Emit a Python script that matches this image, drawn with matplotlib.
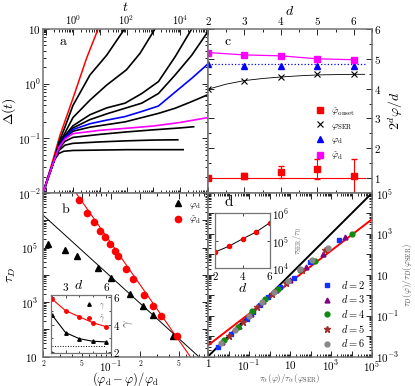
import numpy as np
import matplotlib
matplotlib.use('Agg')
import matplotlib.pyplot as plt
from matplotlib.ticker import FixedLocator, FixedFormatter, NullFormatter, LogLocator, MultipleLocator

plt.rcParams['mathtext.fontset'] = 'cm'
plt.rcParams['font.family'] = 'serif'
plt.rcParams['font.serif'] = ['cmr10', 'DejaVu Serif']
plt.rcParams['axes.formatter.use_mathtext'] = True
plt.rcParams['axes.unicode_minus'] = False

# ---------------- panel a : MSD curves ----------------
t_red = [0.076, 0.15, 0.33, 1.0, 3.2, 8.8]
D_red = [0.01, 0.03, 0.115, 0.54, 2.9, 10.2]

t_c2 = [0.076, 0.13, 0.2, 0.3, 0.5, 1, 4.3, 18, 90]
D_c2 = [0.01, 0.022, 0.04, 0.085, 0.16, 0.4, 1.44, 3.3, 10.5]
t_c3 = [0.076, 0.13, 0.2, 0.3, 0.5, 1, 4.3, 18, 100, 320, 1150]
D_c3 = [0.01, 0.022, 0.04, 0.078, 0.125, 0.24, 0.5, 0.94, 1.8, 3.6, 10]
t_c4 = [0.076, 0.13, 0.2, 0.3, 0.5, 1, 4.3, 18, 88, 370, 1550, 6500, 2.7e4]
D_c4 = [0.01, 0.022, 0.04, 0.075, 0.112, 0.17, 0.27, 0.36, 0.44, 0.66, 1.09, 3.1, 10]
t_c5 = [0.076, 0.13, 0.2, 0.3, 0.5, 1, 4.3, 18, 88, 370, 1550, 6500, 2.7e4, 1.1e5]
D_c5 = [0.01, 0.022, 0.04, 0.073, 0.108, 0.155, 0.22, 0.28, 0.355, 0.44, 0.66, 1.44, 3.3, 9]
t_blue = [0.076, 0.13, 0.2, 0.3, 0.5, 1, 4.3, 18, 88, 370, 1550, 6500, 2.7e4, 1.1e5]
D_blue = [0.01, 0.022, 0.04, 0.071, 0.104, 0.145, 0.185, 0.215, 0.25, 0.31, 0.39, 0.7, 1.25, 2.3]
t_c7 = [0.076, 0.13, 0.2, 0.3, 0.5, 1, 4.3, 18, 88, 1550, 6500, 2.7e4, 1.1e5]
D_c7 = [0.01, 0.022, 0.04, 0.07, 0.1, 0.135, 0.16, 0.178, 0.2, 0.286, 0.355, 0.47, 0.63]
t_mag = [0.076, 0.13, 0.2, 0.3, 0.5, 1, 10, 100, 1000, 1e4, 1.1e5]
D_mag = [0.01, 0.022, 0.04, 0.068, 0.097, 0.122, 0.14, 0.153, 0.168, 0.195, 0.24]
t_c9 = [0.076, 0.13, 0.2, 0.3, 0.5, 1, 10, 100, 1000, 1e4, 3.2e4]
D_c9 = [0.01, 0.022, 0.04, 0.065, 0.088, 0.104, 0.118, 0.131, 0.143, 0.155, 0.163]
t_c10 = [0.076, 0.13, 0.2, 0.3, 0.5, 1, 10, 100, 1000, 8200]
D_c10 = [0.01, 0.022, 0.04, 0.06, 0.075, 0.081, 0.086, 0.09, 0.093, 0.094]
t_c11 = [0.076, 0.13, 0.2, 0.3, 0.45, 1, 10, 100, 1000, 1.3e4]
D_c11 = [0.01, 0.022, 0.04, 0.053, 0.058, 0.06, 0.061, 0.062, 0.062, 0.062]

# ---------------- panel b : tau_D ----------------
xb_tri = [0.0223, 0.0337, 0.0452, 0.0733, 0.1005, 0.158, 0.213, 0.270, 0.435]
tau_tri = [1.4e5, 7.9e4, 4.9e4, 1.7e4, 7.6e3, 1.9e3, 6.9e2, 3.2e2, 56]
xb_circ = [0.047, 0.0573, 0.0671, 0.0774, 0.0871, 0.0982, 0.1105, 0.1195, 0.1435,
           0.1705, 0.2213, 0.274, 0.327, 0.478]
tau_circ = [5.5e6, 1.8e6, 8.8e5, 4.0e5, 2.45e5, 1.3e5, 7.5e4, 4.8e4, 1.6e4,
            7.2e3, 1.86e3, 6.9e2, 2.95e2, 55]
fit_tri_x = [0.02, 0.8]
fit_tri_y = [1.55e6, 10]
fit_circ_x = [0.0438, 0.655]
fit_circ_y = [1e7, 10]

# inset of b : exponents
dims = [2, 3, 4, 5, 6]
gamma = [4.7, 3.41, 2.97, 2.78, 2.73]
gamma_hat = [5.86, 5.01, 4.57, 4.13, 3.84]
gamma_ref = 2.4

# ---------------- panel c : densities ----------------
phi_hat_d = [5.21, 5.13, 5.10, 5.00, 4.97]
phi_d = [4.83, 4.76, 4.76, 4.77, 4.77]
phi_d_line = 4.82
phi_ser = [4.00, 4.27, 4.39, 4.48, 4.48]
ser_fit_d = [2, 2.5, 3, 3.5, 4, 4.5, 5, 5.5, 6, 6.3]
ser_fit = [3.98, 4.15, 4.27, 4.34, 4.39, 4.43, 4.46, 4.47, 4.48, 4.48]
phi_onset = [1.0, 1.07, 1.2, 1.3, 1.07]
phi_onset_err = [0.0, 0.1, 0.2, 0.33, 0.56]

# ---------------- panel d : scaling ----------------
x_d2 = [3.2e-3, 1.4e-2, 7.9e-2, 0.16, 0.35, 0.87, 3.2, 16, 95, 2.5e3]
y_d2 = [3.0e-3, 1.26e-2, 7.2e-2, 0.155, 0.32, 0.85, 2.5, 7.1, 40, 480]
x_d3 = [5e-3, 3.2e-2, 0.126, 0.5, 2.0, 10, 63, 400, 5e3]
y_d3 = [5e-3, 3.2e-2, 0.126, 0.5, 1.8, 5.6, 25, 107, 690]
x_d4 = [6.3e-3, 2.8e-2, 0.14, 0.63, 2.5, 32, 160, 1e4]
y_d4 = [6.3e-3, 2.8e-2, 0.16, 0.63, 2.0, 16.6, 47, 955]
x_d5 = [1e-2, 5e-2, 0.25, 1.26, 6.3, 40, 500]
y_d5 = [1e-2, 5e-2, 0.25, 1.12, 4.0, 17.8, 158]
x_d6 = [4.5e-3, 2e-2, 0.1, 0.45, 1.6, 7.9, 32, 112, 710]
y_d6 = [4.5e-3, 2e-2, 0.1, 0.45, 1.4, 5, 20, 50, 214]
diag_x = [1e-3, 1e5]
diag_y = [1e-3, 1e5]
red_fit_x = [1e-3, 1e5]
red_fit_y = [3.5e-3, 5.2e3]
tau_ser_ratio = [3.9e4, 6.3e4, 1.17e5, 2.1e5, 4.6e5]

GREY = '0.45'


def log_labels(exps, shown, one_as='10'):
    labs = []
    for e in exps:
        if e not in shown:
            labs.append('')
        elif e == 1:
            labs.append(r'$10$')
        elif e == 0:
            labs.append(r'$' + one_as + '$')
        else:
            labs.append(r'$10^{%d}$' % e)
    return labs


def set_log_ticks(axis, exps, shown, one_as='10^{0}'):
    axis.set_major_locator(FixedLocator([10.0 ** e for e in exps]))
    axis.set_major_formatter(FixedFormatter(log_labels(exps, shown, one_as)))
    axis.set_minor_locator(LogLocator(base=10, subs=np.arange(2, 10), numticks=30))
    axis.set_minor_formatter(NullFormatter())


fig = plt.figure(figsize=(4.15, 3.86), dpi=100)
W, H = 415.0, 386.0
ax_a = fig.add_axes([43 / W, 1 - 193 / H, 165 / W, 164 / H])
ax_c = fig.add_axes([208 / W, 1 - 193 / H, 164 / W, 164 / H])
ax_b = fig.add_axes([43 / W, 1 - 356.5 / H, 165 / W, 163.5 / H])
ax_d = fig.add_axes([208 / W, 1 - 356.5 / H, 164 / W, 163.5 / H])

for ax in (ax_a, ax_b, ax_c, ax_d):
    for s in ax.spines.values():
        s.set_color(GREY)
        s.set_linewidth(1.1)
    ax.tick_params(which='both', direction='in', top=True, bottom=True,
                   left=True, right=True, labelsize=8, width=0.6)
    ax.tick_params(which='major', length=4)
    ax.tick_params(which='minor', length=2)

# ---- a ----
ax_a.set_xscale('log')
ax_a.set_yscale('log')
ax_a.plot(t_red, D_red, color='red', lw=1.1)
for tt, DD in [(t_c2, D_c2), (t_c3, D_c3), (t_c4, D_c4), (t_c5, D_c5), (t_c7, D_c7),
               (t_c9, D_c9), (t_c10, D_c10), (t_c11, D_c11)]:
    ax_a.plot(tt, DD, color='black', lw=1.2)
ax_a.plot(t_blue, D_blue, color='blue', lw=1.2)
ax_a.plot(t_mag, D_mag, color='magenta', lw=1.2)
ax_a.set_xlim(0.076, 1.1e5)
ax_a.set_ylim(1e-2, 1e1)
set_log_ticks(ax_a.xaxis, range(-1, 6), [0, 2, 4])
set_log_ticks(ax_a.yaxis, range(-2, 2), [-2, -1, 0, 1])
ax_a.tick_params(labeltop=True, labelbottom=False, pad=1.5)
ax_a.tick_params(axis='x', labelsize=7.5)
ax_a.xaxis.set_label_position('top')
ax_a.set_xlabel(r'$t$', fontsize=10, labelpad=1.5)
ax_a.set_ylabel(r'$\Delta(t)$', fontsize=10, labelpad=0)
ax_a.text(0.1, 0.9, 'a', transform=ax_a.transAxes, fontsize=10)

# ---- c ----
eb = ax_c.errorbar(dims, phi_onset, yerr=phi_onset_err, fmt='s', color='red', ms=4,
                   capsize=2, elinewidth=0.8)
ax_c.plot([2, 6.3], [1.0, 1.0], color='red', lw=0.8)
ax_c.plot(ser_fit_d, ser_fit, color='black', lw=0.6)
h_ser, = ax_c.plot(dims, phi_ser, 'x', color='black', ms=5, mew=0.8)
ax_c.plot([2, 6.3], [phi_d_line, phi_d_line], ':', color='blue', lw=0.9)
h_d, = ax_c.plot(dims, phi_d, '^', color='blue', ms=4)
h_hd, = ax_c.plot(dims, phi_hat_d, '-s', color='magenta', ms=4, lw=0.9)
h_on, = ax_c.plot([], [], 's', color='red', ms=4)
h_hd_leg, = ax_c.plot([], [], 's', color='magenta', ms=4)
ax_c.set_xlim(2, 6.5)
ax_c.set_ylim(0.5, 6)
ax_c.xaxis.set_major_locator(MultipleLocator(1))
ax_c.xaxis.set_minor_locator(MultipleLocator(0.5))
ax_c.yaxis.set_major_locator(MultipleLocator(1))
ax_c.yaxis.set_minor_locator(MultipleLocator(0.5))
ax_c.tick_params(labeltop=True, labelbottom=False, labelleft=False, labelright=True, pad=1.5)
ax_c.xaxis.set_label_position('top')
ax_c.yaxis.set_label_position('right')
ax_c.set_xlabel(r'$d$', fontsize=10, labelpad=0)
ax_c.set_ylabel(r'$2^d\varphi/d$', fontsize=10, labelpad=4)
ax_c.text(0.1, 0.9, 'c', transform=ax_c.transAxes, fontsize=10)
ax_c.legend([h_on, h_ser, h_d, h_hd_leg],
            [r'$\hat{\varphi}_{\rm onset}$', r'$\varphi_{\rm SER}$',
             r'$\varphi_{\rm d}$', r'$\hat{\varphi}_{\rm d}$'],
            loc='upper left', bbox_to_anchor=(0.63, 0.56), frameon=False,
            fontsize=7, handlelength=1.0, handletextpad=0.6, labelspacing=0.35,
            borderaxespad=0, numpoints=1)

# ---- b ----
ax_b.set_xscale('log')
ax_b.set_yscale('log')
ax_b.plot(fit_tri_x, fit_tri_y, color='black', lw=0.7)
ax_b.plot(fit_circ_x, fit_circ_y, color='red', lw=0.8)
ax_b.plot(xb_tri, tau_tri, '^', color='black', ms=4.5, label=r'$\varphi_{\rm d}$')
ax_b.plot(xb_circ, tau_circ, 'o', color='red', ms=4.5, label=r'$\hat{\varphi}_{\rm d}$')
ax_b.set_xlim(0.02, 1)
ax_b.set_ylim(10, 1e7)
set_log_ticks(ax_b.yaxis, range(1, 8), [1, 3, 5])
ax_b.xaxis.set_major_locator(FixedLocator([0.02, 0.05, 0.1, 0.2, 0.5, 1.0]))
ax_b.xaxis.set_major_formatter(FixedFormatter(['2', '5', r'$10^{-1}$', '2', '5', '1']))
ax_b.xaxis.set_minor_locator(LogLocator(base=10, subs=np.arange(2, 10), numticks=30))
ax_b.xaxis.set_minor_formatter(NullFormatter())
ax_b.tick_params(axis='x', pad=2)
for lab in ax_b.get_xticklabels():
    if lab.get_text() in ('2', '5'):
        lab.set_fontsize(5.5)
ax_b.set_xlabel(r'$(\varphi_{\rm d}-\varphi)/\varphi_{\rm d}$', fontsize=9, labelpad=-3)
ax_b.set_ylabel(r'$\tau_D$', fontsize=10, labelpad=2)
ax_b.text(0.11, 0.88, 'b', transform=ax_b.transAxes, fontsize=10)
ax_b.legend(loc='upper right', frameon=False, fontsize=7, handlelength=1.0,
            handletextpad=0.6, labelspacing=0.3, borderaxespad=0.3, numpoints=1)

ax_bi = fig.add_axes([51 / W, 1 - 352.5 / H, 59.5 / W, 57.5 / H])
for s in ax_bi.spines.values():
    s.set_color(GREY)
    s.set_linewidth(0.9)
ax_bi.plot(dims, gamma, '-^', color='black', ms=2.5, lw=0.8)
ax_bi.plot(dims, gamma_hat, '-o', color='red', ms=2.5, lw=0.8)
g_h, = ax_bi.plot([], [], '^', color='black', ms=2.5)
gh_h, = ax_bi.plot([], [], 'o', color='red', ms=2.5)
ax_bi.plot([2, 6], [gamma_ref, gamma_ref], ':', color='black', lw=0.7)
ax_bi.set_xlim(1.93, 6.3)
ax_bi.set_ylim(1.96, 6.15)
ax_bi.xaxis.set_major_locator(FixedLocator([3, 6]))
ax_bi.xaxis.set_minor_locator(FixedLocator([2, 4, 5]))
ax_bi.yaxis.set_major_locator(FixedLocator([2, 4, 6]))
ax_bi.yaxis.set_minor_locator(MultipleLocator(1))
ax_bi.tick_params(which='both', direction='in', top=True, bottom=True, left=True, right=True,
                  labeltop=True, labelbottom=False, labelleft=False, labelright=True,
                  labelsize=8, pad=1.5, width=0.5)
ax_bi.tick_params(which='major', length=2.5)
ax_bi.tick_params(which='minor', length=1.5)
ax_bi.text(0.38, 1.05, r'$d$', transform=ax_bi.transAxes, fontsize=10, va='bottom')
ax_bi.text(1.2, 0.5, r'$\gamma$', transform=ax_bi.transAxes, fontsize=9, va='center',
           rotation=90, color='0.4')
ax_bi.legend([g_h, gh_h], [r'$\gamma$', r'$\hat{\gamma}$'], loc='upper right',
             frameon=False, fontsize=5.5, handlelength=0.6, handletextpad=1.0,
             labelspacing=0.2, borderaxespad=0.3, numpoints=1, labelcolor='0.4')

# ---- d ----
ax_d.set_xscale('log')
ax_d.set_yscale('log')
ax_d.plot(diag_x, diag_y, color='black', lw=1.4)
ax_d.plot(red_fit_x, red_fit_y, color='red', lw=1.4)
ax_d.plot(x_d2, y_d2, 's', color='#1030ff', ms=3.5, label=r'$d=2$')
ax_d.plot(x_d3, y_d3, '^', color='#800080', ms=3.5, label=r'$d=3$')
ax_d.plot(x_d4, y_d4, 'o', color='#108a10', ms=3.5, label=r'$d=4$')
ax_d.plot(x_d5, y_d5, '*', color='#a03030', ms=4.5, label=r'$d=5$')
ax_d.plot(x_d6, y_d6, 'o', color='#888888', ms=3.5, label=r'$d=6$')
ax_d.set_xlim(1e-3, 1e5)
ax_d.set_ylim(1e-3, 1e5)
set_log_ticks(ax_d.xaxis, range(-3, 6), [-1, 1, 3, 5])
set_log_ticks(ax_d.yaxis, range(-3, 6), [-3, -1, 1, 3, 5])
ax_d.tick_params(labelleft=False, labelright=True, pad=1.5)
ax_d.tick_params(axis='y', pad=3)
ax_d.yaxis.set_label_position('right')
ax_d.set_xlabel(r'$\tau_\alpha(\varphi)/\tau_\alpha(\varphi_{\rm SER})$', fontsize=6.5,
                labelpad=-1, color='0.3')
ax_d.set_ylabel(r'$\tau_D(\varphi)/\tau_D(\varphi_{\rm SER})$', fontsize=6.5,
                labelpad=1, color='0.3')
ax_d.text(0.1, 0.92, 'd', transform=ax_d.transAxes, fontsize=11, fontweight='bold')
ax_d.legend(loc='lower right', frameon=False, fontsize=7.5, handlelength=1.0,
            handletextpad=0.8, labelspacing=0.25, borderaxespad=0.3, numpoints=1)

ax_di = fig.add_axes([215 / W, 1 - 268.3 / H, 55 / W, 55 / H])
for s in ax_di.spines.values():
    s.set_color(GREY)
    s.set_linewidth(0.9)
ax_di.set_yscale('log')
ax_di.plot(dims, tau_ser_ratio, '-o', color='black', mfc='red', mec='red', ms=3, lw=0.7)
ax_di.set_xlim(2, 6)
ax_di.set_ylim(1e4, 1e6)
ax_di.xaxis.set_major_locator(FixedLocator([2, 4, 6]))
ax_di.xaxis.set_minor_locator(FixedLocator([3, 5]))
set_log_ticks(ax_di.yaxis, [4, 5, 6], [4, 5, 6])
ax_di.tick_params(which='both', direction='in', top=True, bottom=True, left=True, right=True,
                  labelleft=False, labelright=True, labelsize=8, pad=1.5, width=0.5)
ax_di.tick_params(which='major', length=2.5)
ax_di.tick_params(which='minor', length=0)
ax_di.yaxis.set_label_position('right')
ax_di.set_xlabel(r'$d$', fontsize=10, labelpad=0)
ax_di.set_ylabel(r'$\tau_{\rm SER}/\tau_0$', fontsize=6, labelpad=1, color='0.4')

fig.savefig('out.png', dpi=100)
